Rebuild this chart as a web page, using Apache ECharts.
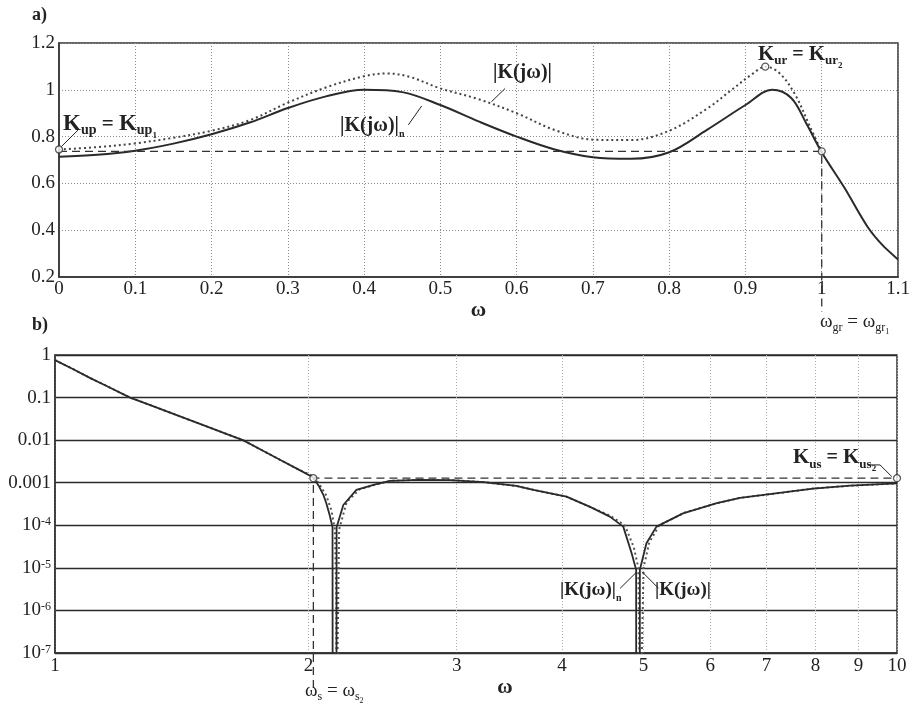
<!DOCTYPE html>
<html><head><meta charset="utf-8">
<script src="https://cdn.jsdelivr.net/npm/echarts@6/dist/echarts.min.js"></script>
<style>html,body{margin:0;padding:0;background:#fff}#c{width:914px;height:706px}</style>
</head><body><div id="c"></div>
<script>
// ---------- data: panel a) ----------
const omegaTopN = [0,0.05,0.1,0.15,0.2,0.25,0.3,0.35,0.4,0.45,0.5,0.55,0.6,0.65,0.7,0.75,0.8,0.85,0.9,0.935,0.96,0.98,1.0,1.03,1.06,1.08,1.1];
const magTopN   = [0.714,0.722,0.74,0.77,0.81,0.86,0.922,0.972,1.0,0.99,0.935,0.865,0.80,0.745,0.712,0.705,0.733,0.83,0.935,1.0,0.965,0.855,0.733,0.58,0.415,0.335,0.275];
const omegaTop  = [0,0.05,0.1,0.15,0.2,0.25,0.3,0.35,0.4,0.43,0.46,0.5,0.55,0.6,0.65,0.7,0.75,0.8,0.85,0.88,0.91,0.926,0.945,0.965,0.985,1.0];
const magTop    = [0.745,0.755,0.771,0.795,0.825,0.87,0.945,1.01,1.058,1.07,1.055,1.006,0.96,0.90,0.828,0.787,0.785,0.825,0.92,0.995,1.07,1.099,1.07,0.98,0.84,0.735];
const Kup = 0.737, omegaGr = 1.0;
const circlesTop = [[0,0.745],[0.926,1.099],[1.0,0.737]];
const xTicksTop = [0,0.1,0.2,0.3,0.4,0.5,0.6,0.7,0.8,0.9,1,1.1];
const yTicksTop = [0.2,0.4,0.6,0.8,1,1.2];

// ---------- data: panel b) ----------
const omegaBotN = [1,1.05,1.1,1.15,1.228,1.3,1.4,1.5,1.6,1.672,1.75,1.85,1.95,2.027,2.06,2.083,2.1,2.12,2.136,2.137,2.159,2.16,2.2,2.28,2.39,2.5,2.7,2.95,3.23,3.53,3.7,4.05,4.32,4.56,4.73,4.84,4.9,4.901,4.949,4.95,5.04,5.18,5.57,6.11,6.51,7.33,7.95,8.8,10];
const magBotN   = [0.76,0.47,0.29,0.19,0.1,0.0655,0.0377,0.0225,0.0139,0.01,0.0062,0.00345,0.002,0.00132,0.0008,0.00052,0.00033,0.00017,0.00009,1e-9,1e-9,0.00009,0.0003,0.00068,0.00089,0.0011,0.00117,0.00115,0.00103,0.00084,0.00068,0.00047,0.00027,0.00016,0.000093,0.000022,0.000009,1e-9,1e-9,0.000009,0.000038,0.000093,0.00019,0.00033,0.00044,0.00059,0.00073,0.00085,0.00096];
const omegaBot  = [1,1.05,1.1,1.15,1.228,1.3,1.4,1.5,1.6,1.672,1.75,1.85,1.95,2.03,2.07,2.1,2.13,2.15,2.158,2.159,2.17,2.175,2.22,2.3,2.4,2.5,2.7,2.95,3.23,3.53,3.7,4.05,4.32,4.56,4.75,4.87,4.93,4.955,4.975,5.0,5.08,5.22,5.6,6.11,6.51,7.33,7.95,8.8,10];
const magBot    = [0.76,0.47,0.29,0.19,0.1,0.0655,0.0377,0.0225,0.0139,0.01,0.0062,0.00345,0.002,0.0014,0.0008,0.0005,0.00022,0.00008,0.000002,1e-9,1e-9,0.00008,0.00035,0.0007,0.0009,0.0011,0.00117,0.00115,0.00103,0.00084,0.00068,0.00047,0.00027,0.00017,0.0001,0.00003,0.00001,1e-9,1e-9,0.00001,0.00004,0.0001,0.0002,0.00033,0.00044,0.00059,0.00073,0.00085,0.00096];
const Kus = 0.00128, omegaS = 2.027;
const circlesBot = [[2.027,0.00128],[10,0.00128]];
const xTicksBot = [1,2,3,4,5,6,7,8,9,10];

// ---------- annotation leader lines (data units) ----------
const leadKupA = [[0.025,0.828],[0.003,0.757]];
const leadKnA  = [[0.458,0.850],[0.4755,0.931]];
const leadKA   = [[0.567,0.949],[0.585,1.006]];
const leadKnB  = [[4.69,3.3e-6],[4.91,8.1e-6]];
const leadKB   = [[5.21,3.3e-6],[4.98,8.1e-6]];
const leadKusB = [[9.24,2.62e-3],[9.545,2.62e-3],[9.86,1.39e-3]];

const SERIF = '"Liberation Serif","DejaVu Serif",serif';
const INK = '#222';
const lg = Math.log10;
const zip = (xs, ys, fx) => xs.map((x, i) => [fx ? fx(x) : x, ys[i]]);
const logPts = pts => pts.map(p => [lg(p[0]), p[1]]);

function leader(xi, yi, pts) {
  return {type:'line', xAxisIndex:xi, yAxisIndex:yi, data:pts, symbol:'none', clip:false, silent:true, z:6,
    lineStyle:{color:INK, width:1}};
}

// rich label pieces as separate text elements
const cv = document.createElement('canvas').getContext('2d');
function fontStr(p){ return (p.b ? 'bold ' : '') + p.s + 'px ' + SERIF; }
function richLabel(x, base, parts) {
  const els = [];
  let cx = x;
  parts.forEach(p => {
    cv.font = fontStr(p);
    const w = cv.measureText(p.t).width;
    els.push({type:'text', x:cx, y: base + (p.dy||0) - 0.34*p.s, z:20,
      style:{text:p.t, font:fontStr(p), fill:INK, align:'left', verticalAlign:'middle'}});
    cx += w + (p.gap||0);
  });
  return els;
}

const chart = echarts.init(document.getElementById('c'), null, {renderer:'canvas'});

const graphics = [].concat(
  richLabel(32, 21, [{t:'a)', s:18, b:true}]),
  richLabel(32, 331, [{t:'b)', s:18, b:true}]),
  richLabel(63, 131.5, [{t:'K',s:23,b:true},{t:'up',s:14,b:true,dy:4},{t:' = ',s:21,b:true},{t:'K',s:23,b:true},{t:'up',s:14,b:true,dy:4},{t:'1',s:9,b:true,dy:7}]),
  richLabel(758, 61.5, [{t:'K',s:21,b:true},{t:'ur',s:13,b:true,dy:4},{t:' = ',s:20,b:true},{t:'K',s:21,b:true},{t:'ur',s:13,b:true,dy:4},{t:'2',s:9,b:true,dy:7}]),
  richLabel(340, 133, [{t:'|K(jω)|',s:20,b:true},{t:'n',s:10,b:true,dy:5}]),
  richLabel(493, 80, [{t:'|K(jω)|',s:20,b:true}]),
  richLabel(820, 328, [{t:'ω',s:19},{t:'gr',s:12,dy:4},{t:' = ',s:19},{t:'ω',s:19},{t:'gr',s:12,dy:4},{t:'1',s:8,dy:7}]),
  richLabel(305, 697, [{t:'ω',s:19},{t:'s',s:12,dy:4},{t:' = ',s:19},{t:'ω',s:19},{t:'s',s:12,dy:4},{t:'2',s:8,dy:7}]),
  richLabel(793, 465, [{t:'K',s:21,b:true},{t:'us',s:13,b:true,dy:4},{t:' = ',s:20,b:true},{t:'K',s:21,b:true},{t:'us',s:13,b:true,dy:4},{t:'2',s:9,b:true,dy:7}]),
  richLabel(560, 597, [{t:'|K(jω)|',s:19,b:true},{t:'n',s:10,b:true,dy:5}]),
  richLabel(655, 597, [{t:'|K(jω)|',s:19,b:true}])
);

const labelStyle = {fontFamily:SERIF, fontSize:19, color:INK};
const supRich = {b:{fontFamily:SERIF, fontSize:19, color:INK}, s:{fontFamily:SERIF, fontSize:12, color:INK, verticalAlign:'top'}};

chart.setOption({
  animation:false,
  backgroundColor:'#fff',
  graphic: graphics,
  grid:[
    {left:59, top:43, width:839, height:234, show:true, borderColor:'#333', borderWidth:1.5},
    {left:55, top:355, width:842, height:298, show:true, borderColor:'#333', borderWidth:1.5}
  ],
  xAxis:[
    {type:'value', gridIndex:0, min:0, max:1.1, interval:0.1,
     name:'ω', nameLocation:'middle', nameGap:22,
     nameTextStyle:{fontFamily:SERIF, fontSize:21, fontWeight:'bold', color:INK},
     axisLine:{show:true, onZero:false, lineStyle:{color:'#333', width:1.5}},
     axisTick:{show:false},
     axisLabel:{...labelStyle, margin:3, customValues: xTicksTop},
     splitLine:{show:true, lineStyle:{type:[1,2], color:'#8a8a8a', width:1}}},
    {type:'value', gridIndex:1, min:0, max:1,
     name:'ω', nameLocation:'middle', nameGap:21,
     nameTextStyle:{fontFamily:SERIF, fontSize:21, fontWeight:'bold', color:INK, padding:[0,0,0,58]},
     axisLine:{show:true, onZero:false, lineStyle:{color:'#333', width:1.5}},
     axisTick:{show:false, customValues: xTicksBot.map(lg)},
     axisLabel:{...labelStyle, margin:4, customValues: xTicksBot.map(lg),
       formatter: v => String(Math.round(Math.pow(10, v)))},
     splitLine:{show:true, lineStyle:{type:[1,2], color:'#aaa', width:1}}}
  ],
  yAxis:[
    {type:'value', gridIndex:0, min:0.2, max:1.2, interval:0.2,
     axisLine:{show:true, onZero:false, lineStyle:{color:'#333', width:1.5}},
     axisTick:{show:false},
     axisLabel:{...labelStyle, margin:4},
     splitLine:{show:true, lineStyle:{type:[1,2], color:'#8a8a8a', width:1}}},
    {type:'log', logBase:10, gridIndex:1, min:1e-7, max:1, splitNumber:7,
     axisLine:{show:true, onZero:false, lineStyle:{color:'#333', width:1.5}},
     axisTick:{show:false},
     axisLabel:{...labelStyle, margin:4, rich:supRich,
       formatter: v => { const e = Math.round(lg(v)); if (e >= -3) return ['1','0.1','0.01','0.001'][-e]; return '{b|10}{s|' + e + '}'; }},
     splitLine:{show:true, lineStyle:{type:'solid', color:'#2a2a2a', width:1.4}}}
  ],
  series:[
    {name:'|K(jω)|n a', type:'line', xAxisIndex:0, yAxisIndex:0, data:zip(omegaTopN, magTopN), smooth:0.35, symbol:'none',
     lineStyle:{color:'#2a2a2a', width:2}, z:4},
    {name:'|K(jω)| a', type:'line', xAxisIndex:0, yAxisIndex:0, data:zip(omegaTop, magTop), smooth:0.35, symbol:'none',
     lineStyle:{color:'#444', width:2, type:[2,3]}, z:3},
    {name:'Kup', type:'line', xAxisIndex:0, yAxisIndex:0, data:[[0,Kup],[omegaGr,Kup],[omegaGr,0.05]], symbol:'none', clip:false,
     lineStyle:{color:'#333', width:1.3, type:[8,5]}, z:5},
    {name:'circles a', type:'scatter', xAxisIndex:0, yAxisIndex:0, data:circlesTop, symbol:'circle', symbolSize:7, clip:false,
     itemStyle:{color:'#fff', borderColor:'#333', borderWidth:1.3}, z:8},
    leader(0,0,leadKupA), leader(0,0,leadKnA), leader(0,0,leadKA),

    {name:'|K(jω)|n b', type:'line', xAxisIndex:1, yAxisIndex:1, data:zip(omegaBotN, magBotN, lg), symbol:'none',
     lineStyle:{color:'#2a2a2a', width:1.8}, z:4},
    {name:'|K(jω)| b', type:'line', xAxisIndex:1, yAxisIndex:1, data:zip(omegaBot, magBot, lg), symbol:'none',
     lineStyle:{color:'#555', width:2, type:[2,3]}, z:3},
    {name:'Kus', type:'line', xAxisIndex:1, yAxisIndex:1, data:[[lg(omegaS),1.5e-8],[lg(omegaS),Kus],[1,Kus]], symbol:'none', clip:false,
     lineStyle:{color:'#333', width:1.3, type:[8,5]}, z:5},
    {name:'circles b', type:'scatter', xAxisIndex:1, yAxisIndex:1, data:logPts(circlesBot), symbol:'circle', symbolSize:7, clip:false,
     itemStyle:{color:'#fff', borderColor:'#333', borderWidth:1.3}, z:8},
    leader(1,1,logPts(leadKnB)), leader(1,1,logPts(leadKB)), leader(1,1,logPts(leadKusB))
  ]
});
</script>
</body></html>
